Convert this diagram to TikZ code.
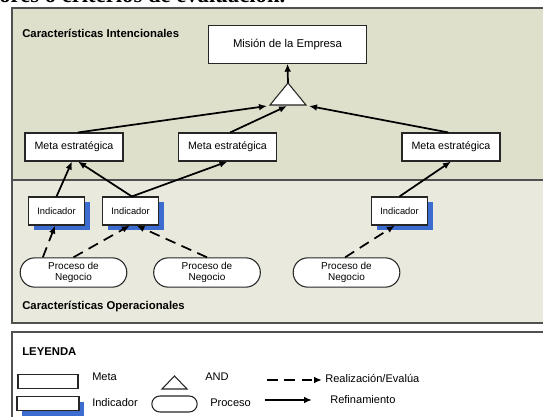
\documentclass[tikz,border=0pt]{standalone}
\usepackage{fontspec}
\setmainfont{Liberation Serif}
\setsansfont{Liberation Sans}
\usetikzlibrary{shapes.misc,shadows,arrows.meta}

\definecolor{intbg}{HTML}{DEE0CB}
\definecolor{opbg}{HTML}{E9E9DD}
\definecolor{marco}{HTML}{505050}
\definecolor{indblue}{HTML}{3C6CD0}

\tikzset{
  meta/.style={rectangle, draw=black!85, line width=0.8pt, fill=white, minimum width=73.5pt, minimum height=21pt, inner sep=0pt, font=\sffamily\fontsize{8}{9}\selectfont},
  indic/.style={rectangle, draw=black!85, line width=0.8pt, fill=white, minimum width=42pt, minimum height=21pt, inner sep=0pt, font=\sffamily\fontsize{7}{8}\selectfont,
    drop shadow={shadow xshift=4pt, shadow yshift=-4pt, fill=indblue, opacity=1}},
  proc/.style={rounded rectangle, draw=black!85, line width=0.8pt, fill=white, minimum width=80pt, minimum height=22pt, inner sep=0pt, align=center, font=\sffamily\fontsize{7.5}{8}\selectfont},
  refina/.style={-{Latex[length=6pt,width=5pt]}, line width=1.3pt},
  realiza/.style={refina, dash pattern=on 8pt off 5pt},
  titulo/.style={anchor=west, inner sep=0pt, font=\sffamily\bfseries\fontsize{8.5}{9}\selectfont},
  leyenda/.style={anchor=west, inner sep=0pt, font=\sffamily\fontsize{8.3}{9}\selectfont},
}

\begin{document}
\begin{tikzpicture}[x=0.75pt, y=-0.75pt]
  \useasboundingbox (0,0) rectangle (543,417);
  \clip (0,0) rectangle (543,417);

  % caption cut at the top
  \node[anchor=base west, inner sep=0pt, font=\rmfamily\bfseries\fontsize{17}{18}\selectfont] (caption) at (-1,2.5) {ores o criterios de evaluación.};

  % fondos
  \draw[marco, fill=intbg, line width=0.8pt] (12,8) rectangle (550,180);
  \draw[marco, fill=opbg, line width=0.8pt] (12,180) rectangle (550,323);
  \draw[marco, line width=1.4pt] (12,180) -- (550,180);
  \draw[marco, fill=white, line width=0.8pt] (12,332) rectangle (550,425);

  \node[titulo] (tint) at (22,33) {Características Intencionales};
  \node[titulo] (top) at (22,307) {Características Operacionales};

  % metas
  \node[meta, minimum width=119pt, minimum height=28pt, font=\sffamily\fontsize{8.5}{9}\selectfont] (mision) at (287.5,44.5) {Misión de la Empresa};
  \node[meta] (m1) at (74,147) {Meta estratégica};
  \node[meta] (m2) at (227.5,147) {Meta estratégica};
  \node[meta] (m3) at (451,147) {Meta estratégica};

  % AND
  \coordinate (and-top) at (288,83);
  \coordinate (and-left) at (270,105);
  \coordinate (and-right) at (306,105);
  \draw[black!85, fill=white, line width=0.8pt] (and-left) -- (and-top) -- (and-right) -- cycle;
  \coordinate (and-in1) at (267,106);
  \coordinate (and-in2) at (287,106);
  \coordinate (and-in3) at (309,106);

  % indicadores
  \node[indic] (i1) at (56.5,211) {Indicador};
  \node[indic] (i2) at (130.5,211) {Indicador};
  \node[indic] (i3) at (399.5,211) {Indicador};

  % procesos
  \node[proc] (p1) at (73.5,272.5) {Proceso de\\Negocio};
  \node[proc] (p2) at (207,272.5) {Proceso de\\Negocio};
  \node[proc] (p3) at (346.5,272.5) {Proceso de\\Negocio};

  % refinamiento
  \draw[refina] (and-top) -- (mision.south);
  \draw[refina] ([xshift=3pt]m1.north) -- (and-in1);
  \draw[refina] ([xshift=2pt]m2.north) -- (and-in2);
  \draw[refina] ([xshift=-2pt]m3.north) -- (and-in3);
  \draw[refina] (i1.north) -- ([xshift=-1.5pt]m1.south);
  \draw[refina] ([xshift=1pt]i2.north) -- ([xshift=3pt]m1.south);
  \draw[refina] ([xshift=1pt]i2.north) -- (m2.south);
  \draw[refina] (i3.north) -- (m3.south);

  % realizacion
  \draw[realiza] ([xshift=-23pt]p1.north) -- ([xshift=-1pt]i1.south);
  \draw[realiza] (p1.north) -- ([xshift=-0.5pt]i2.south);
  \draw[realiza] (p2.north) -- ([xshift=4.5pt]i2.south);
  \draw[realiza] ([xshift=-1pt]p3.north) -- ([xshift=-3.5pt]i3.south);

  % leyenda
  \node[titulo] (ley) at (22,352) {LEYENDA};
  \node[meta, minimum width=45pt, minimum height=11pt] (lmeta) at (48,381.5) {};
  \node[leyenda] (tmeta) at (92,377) {Meta};
  \draw[black!85, fill=white, line width=0.8pt] (162,389) -- (174.5,376) -- (187,389) -- cycle;
  \node[leyenda] (tand) at (205,377) {AND};
  \coordinate (lr-a) at (267,380);
  \coordinate (lr-b) at (322,380);
  \draw[realiza] (lr-a) -- (lr-b);
  \node[leyenda] (treal) at (325,378) {Realización/Evalúa};

  \node[indic, minimum width=46.5pt, minimum height=10pt] (lind) at (48,403.5) {};
  \node[leyenda] (tind) at (92,403) {Indicador};
  \node[proc, minimum width=34pt, minimum height=12pt] (lproc) at (174.5,404) {};
  \node[leyenda] (tproc) at (210,403) {Proceso};
  \coordinate (lf-a) at (265,400);
  \coordinate (lf-b) at (312,400);
  \draw[refina] (lf-a) -- (lf-b);
  \node[leyenda] (tref) at (330,400) {Refinamiento};
\end{tikzpicture}
\end{document}
